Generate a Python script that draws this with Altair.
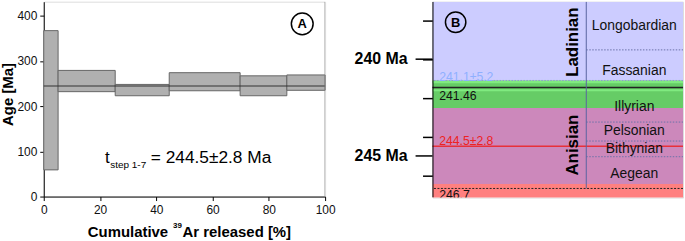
import altair as alt
import pandas as pd

FONT = "Liberation Sans"

# ---------------- Panel A: age spectrum ----------------
step_start = [0.0, 5.1, 25.4, 44.6, 69.8, 86.4]
step_end = [5.1, 25.4, 44.6, 69.8, 86.4, 100.0]
step_age_low = [59, 232, 223, 234, 223, 235]
step_age_high = [367, 279, 248, 274, 267, 269]
plateau_age = [244.5]
x_tick_values = [0, 10, 20, 30, 40, 50, 60, 70, 80, 90, 100]
y_tick_values = [0, 50, 100, 150, 200, 250, 300, 350, 400]

# ---------------- Panel B: time scale ----------------
band_top = [237.03, 241.10, 242.52, 246.45]
band_bottom = [241.10, 242.52, 246.45, 247.20]
band_color = ["#ccccff", "#66cc66", "#cc88bb", "#ff8080"]
highlight_top = [241.12, 241.56]
highlight_bottom = [241.24, 241.66]
stage_names = ["Ladinian", "Anisian"]
stage_label_age = [239.12, 244.44]
substage_names = ["Longobardian", "Fassanian", "Illyrian", "Pelsonian", "Bithynian", "Aegean"]
substage_label_age = [238.30, 240.62, 242.47, 243.72, 244.64, 245.92]
substage_bounds = [239.52, 243.25, 244.23, 245.04]
tick_ages = [238, 239, 240, 241, 242, 243, 244, 245, 246]
major_tick_ages = [240, 245]
major_tick_labels = ["240 Ma", "245 Ma"]
age_domain = [237.03, 247.15]
line_black = [241.46]
line_red = [244.5]
dotted_blue = [241.1]
dotted_black = [246.68]
column_end = [246.68]

WA, HA = 283, 196
WB, HB = 252, 197
COL_X = 154.7

one = pd.DataFrame({"k": [0]})

# ---------- Panel A ----------
steps = pd.DataFrame({"x0": step_start, "x1": step_end, "lo": step_age_low, "hi": step_age_high})

axis_common = dict(title=None, grid=False, tickSize=4, labelFontSize=12, labelFont=FONT,
                   labelColor="#111", domainColor="#000", tickColor="#000", labelFlush=False,
                   labelOverlap=False)

xA = alt.X("x0:Q", scale=alt.Scale(domain=[0, 100], nice=False, zero=False),
           axis=alt.Axis(values=x_tick_values,
                         labelExpr="datum.value % 20 === 0 ? datum.label : ''",
                         labelPadding=4, **axis_common))
yA = alt.Y("lo:Q", scale=alt.Scale(domain=[0, 431], nice=False, zero=False),
           axis=alt.Axis(values=y_tick_values,
                         labelExpr="datum.value % 100 === 0 ? datum.label : ''",
                         labelPadding=3, **axis_common))

bars = alt.Chart(steps).mark_rect(fill="#b0b0b0", stroke="#666666", strokeWidth=1).encode(
    x=xA, x2="x1", y=yA, y2="hi")

plateau = alt.Chart(pd.DataFrame({"age": plateau_age})).mark_rule(
    color="#333333", strokeWidth=1.2).encode(y="age:Q")

right_border = alt.Chart(pd.DataFrame({"x": [100]})).mark_rule(
    color="#888888", strokeWidth=1, clip=True).encode(x="x:Q")

bound_helper = alt.Chart(one).mark_rule(opacity=0).encode(
    x=alt.value(-43.3), x2=alt.value(0), y=alt.value(0))

def txt(text, x, y, size, bold=False, color="#000", align="left", baseline="alphabetic", angle=0, data=one):
    kw = dict(text=text, fontSize=size, font=FONT, fontWeight="bold" if bold else "normal",
              color=color, align=align, baseline=baseline)
    if angle:
        kw["angle"] = angle
    return alt.Chart(data).mark_text(**kw).encode(x=alt.value(x), y=alt.value(y))

badgeA_circle = alt.Chart(one).mark_point(shape="circle", size=480, filled=False,
                                          color="#000", strokeWidth=1.5, opacity=1).encode(
    x=alt.value(260), y=alt.value(22.3))
badgeA_text = txt("A", 260, 22.8, 13, bold=True, align="center", baseline="middle")

y_title = txt("Age [Ma]", -31.3, 93.3, 15, bold=True, align="center", angle=270)
x_title1 = txt("Cumulative", 44.3, 236.7, 15, bold=True)
x_title2 = txt("39", 130.0, 228.0, 8, bold=True)
x_title3 = txt("Ar released [%]", 139.6, 236.7, 15, bold=True)

plat_t = txt("t", 61.7, 162.3, 17)
plat_sub = txt("step 1-7", 66.9, 167.3, 10)
plat_val = txt("= 244.5\u00b12.8 Ma", 107.7, 162.3, 17.4)

panelA = alt.layer(bars, plateau, right_border, bound_helper, badgeA_circle, badgeA_text,
                   y_title, x_title1, x_title2, x_title3, plat_t, plat_sub, plat_val
                   ).properties(width=WA, height=HA)

# ---------- Panel B ----------
yB_scale = alt.Scale(domain=age_domain, reverse=True, nice=False, zero=False)

bands = pd.DataFrame({"top": band_top, "bottom": band_bottom, "color": band_color})
band_layer = alt.Chart(bands).mark_rect(clip=True).encode(
    x=alt.value(0), x2=alt.value(WB),
    y=alt.Y("top:Q", scale=yB_scale,
            axis=alt.Axis(values=tick_ages, title=None, grid=False, tickSize=10, tickWidth=1.5,
                          tickColor="#000", domain=False, labels=False)),
    y2="bottom:Q",
    color=alt.Color("color:N", scale=None))

hl = pd.DataFrame({"top": highlight_top, "bottom": highlight_bottom})
hl_layer = alt.Chart(hl).mark_rect(color="#80ea80").encode(
    x=alt.value(0), x2=alt.value(WB), y="top:Q", y2="bottom:Q")

domain_line = alt.Chart(pd.DataFrame({"a": [age_domain[0]], "b": [age_domain[1]]})).mark_rule(
    color="#000", strokeWidth=2, clip=True).encode(x=alt.value(0), y="a:Q", y2="b:Q")

major = pd.DataFrame({"age": major_tick_ages, "label": major_tick_labels})
major_ticks = alt.Chart(major).mark_rule(
    color="#000", strokeWidth=1.5).encode(x=alt.value(-17), x2=alt.value(0), y="age:Q")
major_labels = alt.Chart(major).mark_text(
    font=FONT, fontSize=16, fontWeight="bold", align="right", baseline="middle", color="#000").encode(
    x=alt.value(-25), y="age:Q", text="label:N")

blk = alt.Chart(pd.DataFrame({"age": line_black})).mark_rule(color="#222", strokeWidth=1.5).encode(y="age:Q")
red = alt.Chart(pd.DataFrame({"age": line_red})).mark_rule(color="#e8303a", strokeWidth=1.5).encode(y="age:Q")
dot_blue = alt.Chart(pd.DataFrame({"age": dotted_blue})).mark_rule(
    color="#8c9ad0", strokeWidth=1, strokeDash=[1.5, 1.5]).encode(y="age:Q")
dot_black = alt.Chart(pd.DataFrame({"age": dotted_black})).mark_rule(
    color="#222", strokeWidth=1, strokeDash=[2, 1.5]).encode(y="age:Q")
sub_dots = alt.Chart(pd.DataFrame({"age": substage_bounds})).mark_rule(
    color="#6b72a8", strokeWidth=1, strokeDash=[1.5, 1.5]).encode(
    x=alt.value(COL_X), x2=alt.value(WB), y="age:Q")
col_line = alt.Chart(pd.DataFrame({"a": [age_domain[0]], "b": column_end})).mark_rule(
    color="#5a64a0", strokeWidth=1, clip=True).encode(x=alt.value(COL_X), y="a:Q", y2="b:Q")

stages = pd.DataFrame({"name": stage_names, "age": stage_label_age})
stage_layer = alt.Chart(stages).mark_text(font=FONT, fontSize=17, fontWeight="bold", angle=270,
                                          align="center", baseline="alphabetic", color="#000").encode(
    x=alt.value(146.5), y="age:Q", text="name:N")

subs = pd.DataFrame({"name": substage_names, "age": substage_label_age})
sub_layer = alt.Chart(subs).mark_text(font=FONT, fontSize=14, align="center", baseline="middle",
                                      color="#111").encode(
    x=alt.value(203), y="age:Q", text="name:N")

lab_blue = alt.Chart(pd.DataFrame({"age": dotted_blue, "t": ["241.1\u00b15.2"]})).mark_text(
    font=FONT, fontSize=12.3, color="#8fb0ff", align="left", baseline="alphabetic", dy=1).encode(
    x=alt.value(6.7), y="age:Q", text="t:N")
lab_black = alt.Chart(pd.DataFrame({"age": line_black, "t": ["241.46"]})).mark_text(
    font=FONT, fontSize=12.3, color="#111", align="left", baseline="top", dy=3).encode(
    x=alt.value(6.7), y="age:Q", text="t:N")
lab_red = alt.Chart(pd.DataFrame({"age": line_red, "t": ["244.5\u00b12.8"]})).mark_text(
    font=FONT, fontSize=12.3, color="#ee2222", align="left", baseline="alphabetic", dy=-1.5).encode(
    x=alt.value(6.7), y="age:Q", text="t:N")
lab_bottom = alt.Chart(pd.DataFrame({"age": dotted_black, "t": ["246.7"]})).mark_text(
    font=FONT, fontSize=12.3, color="#111", align="left", baseline="top", dy=0.5, clip=True).encode(
    x=alt.value(6.7), y="age:Q", text="t:N")

badgeB_circle = alt.Chart(one).mark_point(shape="circle", size=420, filled=False,
                                          color="#000", strokeWidth=1.5, opacity=1).encode(
    x=alt.value(23.3), y=alt.value(20.7))
badgeB_text = txt("B", 23.3, 21.2, 13, bold=True, align="center", baseline="middle")

panelB = alt.layer(band_layer, hl_layer, dot_blue, blk, red, dot_black, sub_dots, col_line,
                   domain_line, major_ticks, major_labels, stage_layer, sub_layer,
                   lab_blue, lab_black, lab_red, lab_bottom, badgeB_circle, badgeB_text
                   ).properties(width=WB, height=HB)

chart = alt.hconcat(panelA, panelB, spacing=108, bounds="flush").properties(
    padding=0, background="white"
).configure_view(stroke=None).configure(font=FONT)

chart.save("out.html", embed_options={"renderer": "svg", "actions": False})
